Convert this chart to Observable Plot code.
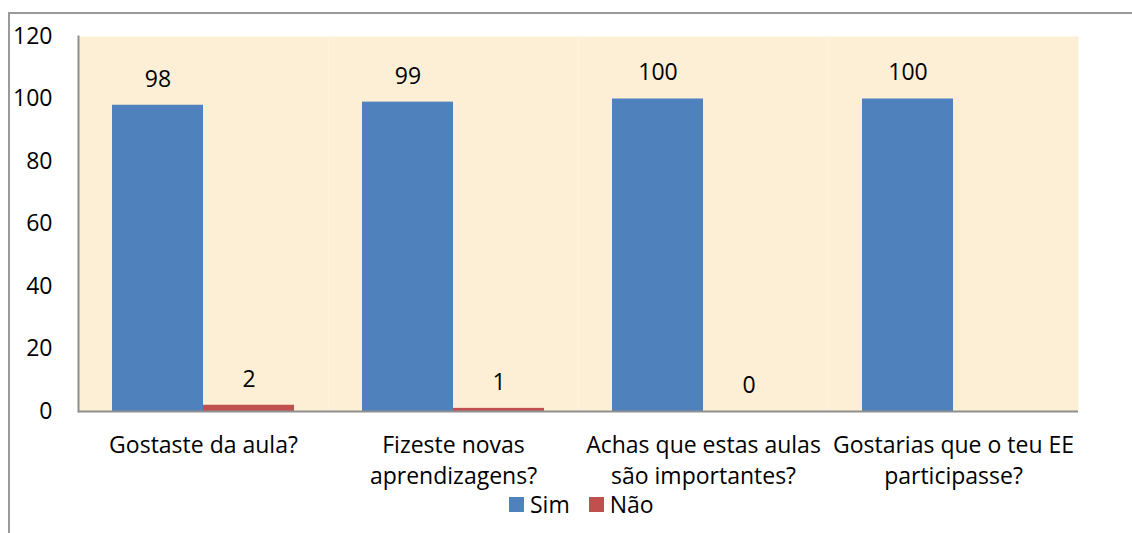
<!DOCTYPE html>
<html>
<head>
<meta charset="utf-8">
<script src="https://cdn.jsdelivr.net/npm/d3@7"></script>
<script src="https://cdn.jsdelivr.net/npm/@observablehq/plot@0.6"></script>
<style>
  html, body { margin: 0; padding: 0; background: #fff; }
  #wrap { position: relative; width: 1132px; height: 533px; overflow: hidden; font-family: "Open Sans", sans-serif; }
  #border { position: absolute; left: 8px; top: 12px; width: 1200px; height: 600px; border-left: 2px solid #9a9a9a; border-top: 2px solid #9a9a9a; box-sizing: border-box; }
  #chart { position: absolute; left: 0; top: 0; }
  #legend { position: absolute; left: 509px; top: 495px; display: flex; align-items: center; font-size: 23px; line-height: 18px; color: #000; }
  #legend .item { display: flex; align-items: center; margin-right: 19px; }
  #legend .sw { width: 15px; height: 15px; margin-right: 6px; }
</style>
</head>
<body>
<div id="wrap">
  <div id="border"></div>
  <div id="chart"></div>
  <div id="legend"></div>
</div>
<script>
const categories = [
  "Gostaste da aula?",
  "Fizeste novas\naprendizagens?",
  "Achas que estas aulas\nsão importantes?",
  "Gostarias que o teu EE\nparticipasse?"
];
const series = ["Sim", "Não"];
const simValues = [98, 99, 100, 100];
const naoValues = [2, 1, 0, null];
const colors = ["#4F81BD", "#C0504D"];
const yTicks = [0, 20, 40, 60, 80, 100, 120];

const rows = [];
categories.forEach((c, i) => {
  rows.push({cat: c, series: "Sim", value: simValues[i]});
  rows.push({cat: c, series: "Não", value: naoValues[i]});
});
const valued = rows.filter(d => d.value != null);

const chart = Plot.plot({
  width: 1132,
  height: 492,
  marginLeft: 78,
  marginRight: 54,
  marginTop: 36,
  marginBottom: 81,
  style: {fontFamily: "Open Sans, sans-serif", fontSize: "23px", color: "#000", background: "transparent", overflow: "visible"},
  fx: {domain: categories, padding: 0, axis: null},
  x: {domain: series, paddingInner: 0, paddingOuter: 0.3736, axis: null},
  y: {domain: [0, 120], axis: null},
  color: {domain: series, range: colors},
  marks: [
    Plot.frame({fill: "#FCEFD6", stroke: null}),
    Plot.barY(valued, {fx: "cat", x: "series", y: "value", fill: "series"}),
    Plot.ruleY([0], {stroke: "#8f8f8f", strokeWidth: 2}),
    Plot.frame({anchor: "left", stroke: "#8f8f8f", strokeWidth: 2, fx: [categories[0]]}),
    Plot.axisY({ticks: yTicks, tickSize: 0, tickPadding: 26, fontSize: 23, label: null, tickFormat: d => String(d)}),
    Plot.text(valued, {fx: "cat", x: "series", y: "value", text: d => String(d.value), dy: -26, fontSize: 23, fill: "#000"}),
    Plot.text(categories, {fx: d => d, text: d => d, frameAnchor: "bottom", lineAnchor: "top", dy: 19, lineHeight: 1.37, fontSize: 23, fill: "#000"})
  ]
});
document.getElementById("chart").appendChild(chart);

const legend = document.getElementById("legend");
series.forEach((s, i) => {
  const item = document.createElement("div");
  item.className = "item";
  const sw = document.createElement("div");
  sw.className = "sw";
  sw.style.background = colors[i];
  const lab = document.createElement("span");
  lab.textContent = s;
  item.appendChild(sw);
  item.appendChild(lab);
  legend.appendChild(item);
});
</script>
</body>
</html>
